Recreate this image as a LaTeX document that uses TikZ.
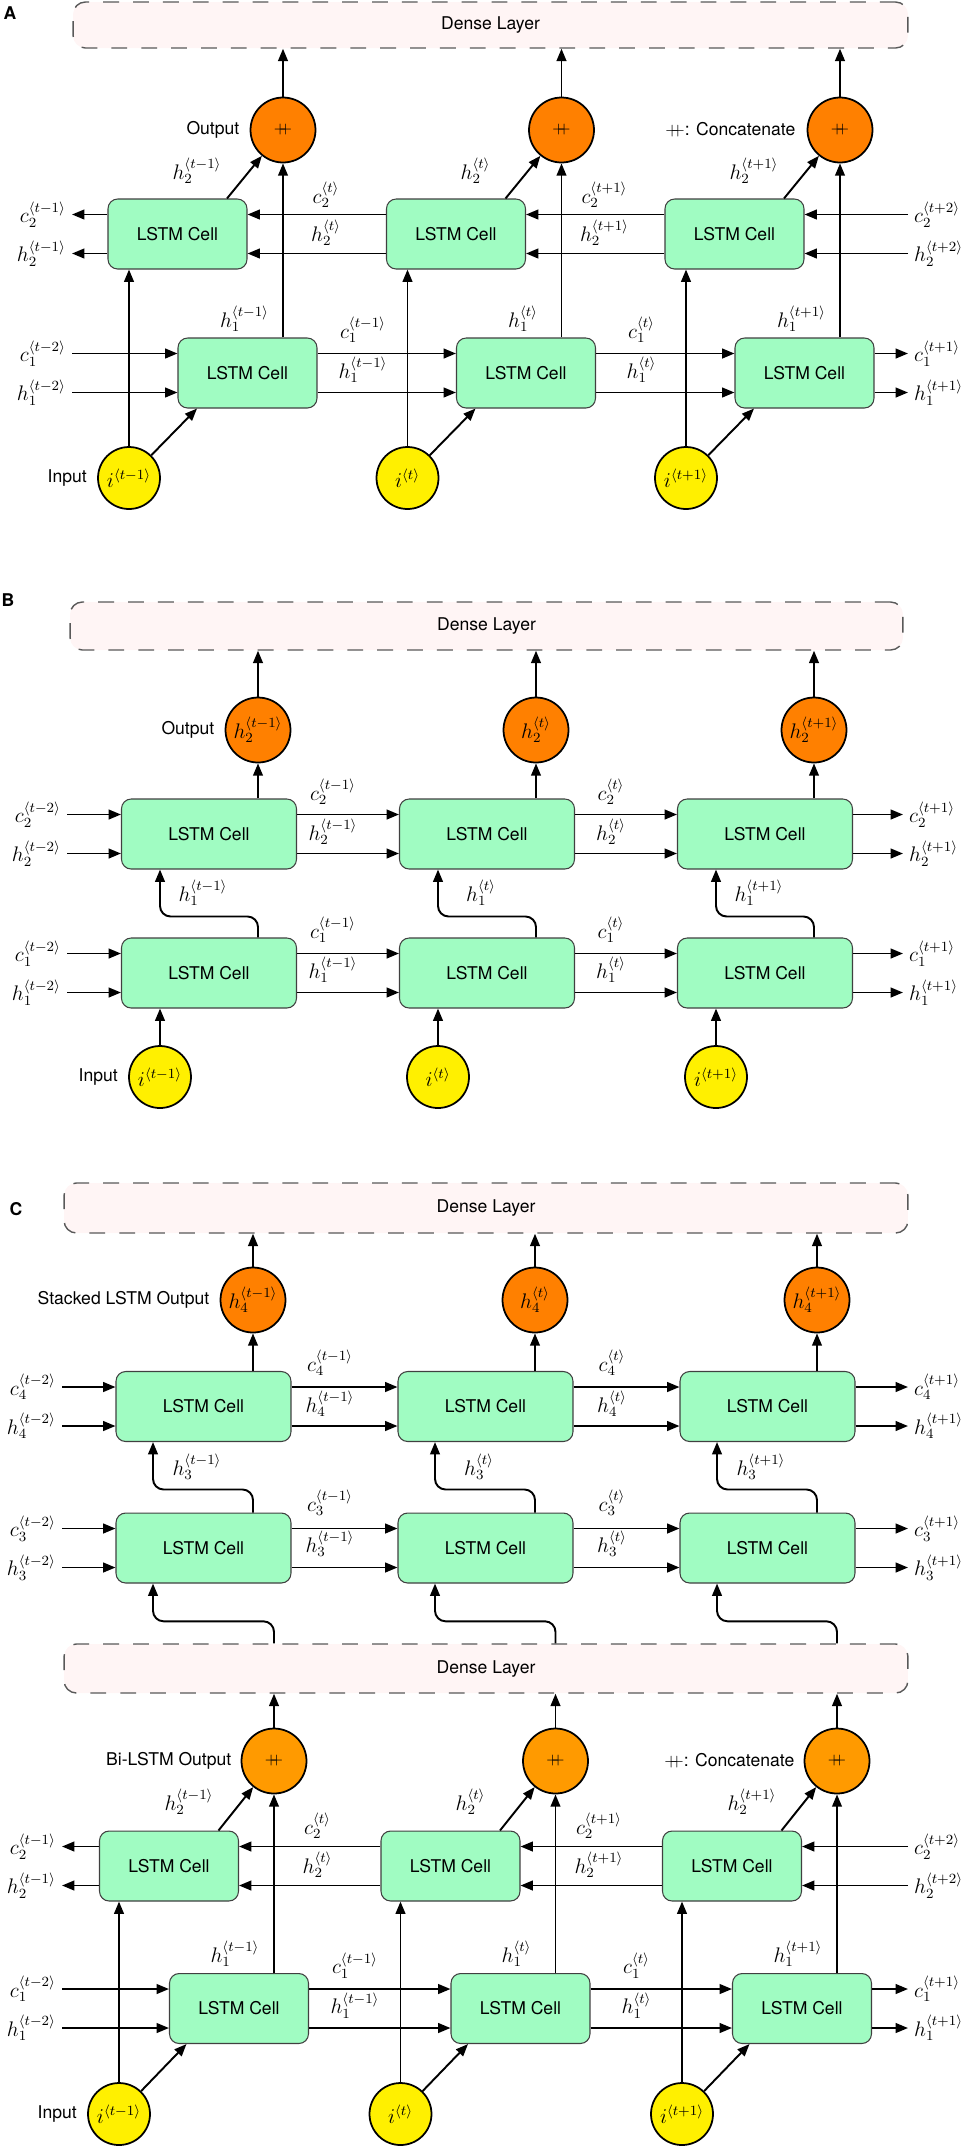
\documentclass[tikz,border=0pt]{standalone}
\usepackage{fontspec}
\setsansfont{TeX Gyre Heros}
\usepackage{xcolor}
\usetikzlibrary{arrows.meta,calc}

\definecolor{cellgreen}{HTML}{A0FCC2}
\definecolor{outorange}{HTML}{FF8000}
\definecolor{catorange}{HTML}{FF9A00}
\definecolor{inyellow}{HTML}{FFF000}
\definecolor{densepink}{HTML}{FFF5F5}
\newcommand{\catsym}{\mathord{+}\mkern-8mu\mathord{+}}

\tikzset{
  cell/.style={draw=black!75, fill=cellgreen, rounded corners=5.5pt, line width=0.6pt,
    minimum height=1.4cm, font=\sffamily},
  narrow/.style={cell, minimum width=2.78cm},
  wide/.style={cell, minimum width=3.5cm},
  outnode/.style={circle, draw, line width=1pt, fill=outorange, minimum size=1.3cm,
    inner sep=0pt, font=\large},
  innode/.style={circle, draw, line width=1pt, fill=inyellow, minimum size=1.24cm,
    inner sep=0pt, font=\large},
  dense/.style={draw=black!65, fill=densepink, dash pattern=on 9pt off 8pt,
    rounded corners=7pt, line width=0.8pt, font=\sffamily},
  flow/.style={-{Triangle[length=7pt,width=5.5pt]}, line width=1.1pt},
  lbl/.style={inner sep=0.5pt, outer sep=3pt, font=\large},
  txt/.style={font=\sffamily, inner sep=0pt},
  tag/.style={font=\sffamily\bfseries, inner sep=0pt}
}

\begin{document}
\begin{tikzpicture}[x=0.02cm, y=-0.02cm]
\useasboundingbox (0,0) rectangle (969,2148);

%% ---------------- A: Bi-LSTM ----------------
\node[tag] (tagA) at (10,13) {A};
\node[dense, minimum width=16.7cm, minimum height=0.92cm] (dA) at (490.5,25) {Dense Layer};
\foreach \i/\ux/\lx/\ox/\ix/\ts in {1/177.5/247.5/283/129/t-1, 2/456/526/561.5/407.5/t, 3/734.5/804.5/840/686/t+1} {
  \node[narrow] (UA\i) at (\ux,234) {LSTM Cell};
  \node[narrow] (LA\i) at (\lx,373) {LSTM Cell};
  \node[outnode] (OA\i) at (\ox,130) {\small$\catsym$};
  \node[innode] (IA\i) at (\ix,478) {$i^{\langle\ts\rangle}$};
  \node[lbl] (dhA\i) at (\ux+19.5,171) {$h_2^{\langle\ts\rangle}$};
  \node[lbl] (vhA\i) at (\lx-3,319) {$h_1^{\langle\ts\rangle}$};
  \draw[flow] (OA\i) -- (OA\i |- dA.south);
  \draw[flow] ([xshift=0.99cm]UA\i.north) -- (OA\i);
  \draw[flow] (LA\i.north -| OA\i) -- (OA\i);
  \draw[flow] (IA\i) -- (IA\i |- UA\i.south);
  \draw[flow] (IA\i) -- ([xshift=-1.01cm]LA\i.south);
}
\foreach \i/\j/\ts/\tn in {1/2/t-1/t, 2/3/t/t+1} {
  \draw[flow] ([yshift=0.39cm]UA\j.west) -- ([yshift=0.39cm]UA\i.east);
  \draw[flow] ([yshift=-0.39cm]UA\j.west) -- ([yshift=-0.39cm]UA\i.east);
  \draw[flow] ([yshift=0.39cm]LA\i.east) -- ([yshift=0.39cm]LA\j.west);
  \draw[flow] ([yshift=-0.39cm]LA\i.east) -- ([yshift=-0.39cm]LA\j.west);
  \node[lbl] (gcA\i) at ($(UA\i)+(148.5,-39)$) {$c_2^{\langle\tn\rangle}$};
  \node[lbl] (ghA\i) at ($(UA\i)+(148.5,-1)$) {$h_2^{\langle\tn\rangle}$};
  \node[lbl] (gkA\i) at ($(LA\i)+(115.5,-43)$) {$c_1^{\langle\ts\rangle}$};
  \node[lbl] (glA\i) at ($(LA\i)+(115.5,-3)$) {$h_1^{\langle\ts\rangle}$};
}
\node[lbl, anchor=east] (lcA2) at (72,214.5) {$c_2^{\langle t-1\rangle}$};
\node[lbl, anchor=east] (lhA2) at (72,253.5) {$h_2^{\langle t-1\rangle}$};
\node[lbl, anchor=east] (lcA1) at (72,353.5) {$c_1^{\langle t-2\rangle}$};
\node[lbl, anchor=east] (lhA1) at (72,392.5) {$h_1^{\langle t-2\rangle}$};
\node[lbl, anchor=west] (rcA2) at (908,214.5) {$c_2^{\langle t+2\rangle}$};
\node[lbl, anchor=west] (rhA2) at (908,253.5) {$h_2^{\langle t+2\rangle}$};
\node[lbl, anchor=west] (rcA1) at (908,353.5) {$c_1^{\langle t+1\rangle}$};
\node[lbl, anchor=west] (rhA1) at (908,392.5) {$h_1^{\langle t+1\rangle}$};
\draw[flow] (UA1.west |- lcA2.east) -- (lcA2.east);
\draw[flow] (UA1.west |- lhA2.east) -- (lhA2.east);
\draw[flow] (lcA1.east) -- (lcA1.east -| LA1.west);
\draw[flow] (lhA1.east) -- (lhA1.east -| LA1.west);
\draw[flow] (rcA2.west) -- (rcA2.west -| UA3.east);
\draw[flow] (rhA2.west) -- (rhA2.west -| UA3.east);
\draw[flow] (LA3.east |- rcA1.west) -- (rcA1.west);
\draw[flow] (LA3.east |- rhA1.west) -- (rhA1.west);
\node[txt, anchor=east] (outA) at ([xshift=-0.2cm]OA1.west) {Output};
\node[txt, anchor=east] (catA) at ([xshift=-0.22cm]OA3.west) {$\catsym$: Concatenate};
\node[txt, anchor=east] (inA) at ([xshift=-0.2cm]IA1.west) {Input};

%% ---------------- B: stacked LSTM ----------------
\node[tag] (tagB) at (8,600) {B};
\node[dense, minimum width=16.66cm, minimum height=0.96cm] (dB) at (486.5,626) {Dense Layer};
\foreach \i/\ux/\ts in {1/209/t-1, 2/487/t, 3/765/t+1} {
  \node[wide] (UB\i) at (\ux,834) {LSTM Cell};
  \node[wide] (LB\i) at (\ux,973) {LSTM Cell};
  \node[outnode] (OB\i) at (\ux+49,730) {$h_2^{\langle\ts\rangle}$};
  \node[innode] (IB\i) at (\ux-49,1077) {$i^{\langle\ts\rangle}$};
  \node[lbl] (vhB\i) at (\ux-6,893) {$h_1^{\langle\ts\rangle}$};
  \draw[flow] (OB\i) -- (OB\i |- dB.south);
  \draw[flow] (UB\i.north -| OB\i) -- (OB\i);
  \draw[flow] (IB\i) -- (IB\i |- LB\i.south);
  \draw[flow, rounded corners=6pt] (LB\i.north -| OB\i) -- ++(0,-21) -| (UB\i.south -| IB\i);
}
\foreach \i/\j/\ts in {1/2/t-1, 2/3/t} {
  \draw[flow] ([yshift=0.39cm]UB\i.east) -- ([yshift=0.39cm]UB\j.west);
  \draw[flow] ([yshift=-0.39cm]UB\i.east) -- ([yshift=-0.39cm]UB\j.west);
  \draw[flow] ([yshift=0.39cm]LB\i.east) -- ([yshift=0.39cm]LB\j.west);
  \draw[flow] ([yshift=-0.39cm]LB\i.east) -- ([yshift=-0.39cm]LB\j.west);
  \node[lbl] (gcB\i) at ($(UB\i)+(124,-42)$) {$c_2^{\langle\ts\rangle}$};
  \node[lbl] (ghB\i) at ($(UB\i)+(124,-2)$) {$h_2^{\langle\ts\rangle}$};
  \node[lbl] (gkB\i) at ($(LB\i)+(124,-43)$) {$c_1^{\langle\ts\rangle}$};
  \node[lbl] (glB\i) at ($(LB\i)+(124,-3)$) {$h_1^{\langle\ts\rangle}$};
}
\node[lbl, anchor=east] (lcB2) at (67,814.5) {$c_2^{\langle t-2\rangle}$};
\node[lbl, anchor=east] (lhB2) at (67,853.5) {$h_2^{\langle t-2\rangle}$};
\node[lbl, anchor=east] (lcB1) at (67,953.5) {$c_1^{\langle t-2\rangle}$};
\node[lbl, anchor=east] (lhB1) at (67,992.5) {$h_1^{\langle t-2\rangle}$};
\node[lbl, anchor=west] (rcB2) at (903,814.5) {$c_2^{\langle t+1\rangle}$};
\node[lbl, anchor=west] (rhB2) at (903,853.5) {$h_2^{\langle t+1\rangle}$};
\node[lbl, anchor=west] (rcB1) at (903,953.5) {$c_1^{\langle t+1\rangle}$};
\node[lbl, anchor=west] (rhB1) at (903,992.5) {$h_1^{\langle t+1\rangle}$};
\draw[flow] (lcB2.east) -- (lcB2.east -| UB1.west);
\draw[flow] (lhB2.east) -- (lhB2.east -| UB1.west);
\draw[flow] (lcB1.east) -- (lcB1.east -| LB1.west);
\draw[flow] (lhB1.east) -- (lhB1.east -| LB1.west);
\draw[flow] (UB3.east |- rcB2.west) -- (rcB2.west);
\draw[flow] (UB3.east |- rhB2.west) -- (rhB2.west);
\draw[flow] (LB3.east |- rcB1.west) -- (rcB1.west);
\draw[flow] (LB3.east |- rhB1.west) -- (rhB1.west);
\node[txt, anchor=east] (outB) at ([xshift=-0.2cm]OB1.west) {Output};
\node[txt, anchor=east] (inB) at ([xshift=-0.2cm]IB1.west) {Input};

%% ---------------- C: stacked LSTM on Bi-LSTM ----------------
\node[tag] (tagC) at (16,1209) {C};
\node[dense, minimum width=16.88cm, minimum height=1cm] (dC) at (486,1208) {Dense Layer};
\node[dense, minimum width=16.88cm, minimum height=0.98cm] (dD) at (486,1668.5) {Dense Layer};
% upper part: layers 3 and 4
\foreach \i/\ux/\ts in {1/203.5/t-1, 2/485.5/t, 3/767.5/t+1} {
  \node[wide] (UC\i) at (\ux,1406.5) {LSTM Cell};
  \node[wide] (LC\i) at (\ux,1548) {LSTM Cell};
  \node[outnode] (OC\i) at (\ux+49.5,1300) {$h_4^{\langle\ts\rangle}$};
  \node[lbl] (vhC\i) at (\ux-6.5,1467) {$h_3^{\langle\ts\rangle}$};
  \draw[flow] (OC\i) -- (OC\i |- dC.south);
  \draw[flow] (UC\i.north -| OC\i) -- (OC\i);
  \draw[flow, rounded corners=6pt] (LC\i.north -| OC\i) -- ++(0,-23) -| ([xshift=-1.01cm]UC\i.south);
}
\foreach \i/\j/\ts in {1/2/t-1, 2/3/t} {
  \draw[flow] ([yshift=0.39cm]UC\i.east) -- ([yshift=0.39cm]UC\j.west);
  \draw[flow] ([yshift=-0.39cm]UC\i.east) -- ([yshift=-0.39cm]UC\j.west);
  \draw[flow] ([yshift=0.39cm]LC\i.east) -- ([yshift=0.39cm]LC\j.west);
  \draw[flow] ([yshift=-0.39cm]LC\i.east) -- ([yshift=-0.39cm]LC\j.west);
  \node[lbl] (gcC\i) at ($(UC\i)+(126.5,-43.5)$) {$c_4^{\langle\ts\rangle}$};
  \node[lbl] (ghC\i) at ($(UC\i)+(126.5,-2.5)$) {$h_4^{\langle\ts\rangle}$};
  \node[lbl] (gkC\i) at ($(LC\i)+(126.5,-45)$) {$c_3^{\langle\ts\rangle}$};
  \node[lbl] (glC\i) at ($(LC\i)+(126.5,-4)$) {$h_3^{\langle\ts\rangle}$};
}
\node[lbl, anchor=east] (lcC4) at (62,1387) {$c_4^{\langle t-2\rangle}$};
\node[lbl, anchor=east] (lhC4) at (62,1426) {$h_4^{\langle t-2\rangle}$};
\node[lbl, anchor=east] (lcC3) at (62,1528.5) {$c_3^{\langle t-2\rangle}$};
\node[lbl, anchor=east] (lhC3) at (62,1567.5) {$h_3^{\langle t-2\rangle}$};
\node[lbl, anchor=west] (rcC4) at (908,1387) {$c_4^{\langle t+1\rangle}$};
\node[lbl, anchor=west] (rhC4) at (908,1426) {$h_4^{\langle t+1\rangle}$};
\node[lbl, anchor=west] (rcC3) at (908,1528.5) {$c_3^{\langle t+1\rangle}$};
\node[lbl, anchor=west] (rhC3) at (908,1567.5) {$h_3^{\langle t+1\rangle}$};
\draw[flow] (lcC4.east) -- (lcC4.east -| UC1.west);
\draw[flow] (lhC4.east) -- (lhC4.east -| UC1.west);
\draw[flow] (lcC3.east) -- (lcC3.east -| LC1.west);
\draw[flow] (lhC3.east) -- (lhC3.east -| LC1.west);
\draw[flow] (UC3.east |- rcC4.west) -- (rcC4.west);
\draw[flow] (UC3.east |- rhC4.west) -- (rhC4.west);
\draw[flow] (LC3.east |- rcC3.west) -- (rcC3.west);
\draw[flow] (LC3.east |- rhC3.west) -- (rhC3.west);
\node[txt, anchor=east] (outC) at ([xshift=-0.2cm]OC1.west) {Stacked LSTM Output};
% lower part: Bi-LSTM
\foreach \i/\ux/\lx/\ts in {1/169/239/t-1, 2/450.5/520.5/t, 3/732/802/t+1} {
  \node[narrow] (UD\i) at (\ux,1866) {LSTM Cell};
  \node[narrow] (LD\i) at (\lx,2008.5) {LSTM Cell};
  \node[outnode, fill=catorange] (OD\i) at (\lx+35,1761) {\small$\catsym$};
  \node[innode] (ID\i) at (\ux-50,2114) {$i^{\langle\ts\rangle}$};
  \node[lbl] (dhD\i) at (\ux+20,1802) {$h_2^{\langle\ts\rangle}$};
  \node[lbl] (vhD\i) at (\lx-4,1954) {$h_1^{\langle\ts\rangle}$};
  \draw[flow] (OD\i) -- (OD\i |- dD.south);
  \draw[flow] ([xshift=0.99cm]UD\i.north) -- (OD\i);
  \draw[flow] (LD\i.north -| OD\i) -- (OD\i);
  \draw[flow] (ID\i) -- (ID\i |- UD\i.south);
  \draw[flow] (ID\i) -- ([xshift=-1.05cm]LD\i.south);
  \draw[flow, rounded corners=6pt] (OD\i |- dD.north) -- ++(0,-22) -| ([xshift=-1.01cm]LC\i.south);
}
\foreach \i/\j/\ts/\tn in {1/2/t-1/t, 2/3/t/t+1} {
  \draw[flow] ([yshift=0.39cm]UD\j.west) -- ([yshift=0.39cm]UD\i.east);
  \draw[flow] ([yshift=-0.39cm]UD\j.west) -- ([yshift=-0.39cm]UD\i.east);
  \draw[flow] ([yshift=0.39cm]LD\i.east) -- ([yshift=0.39cm]LD\j.west);
  \draw[flow] ([yshift=-0.39cm]LD\i.east) -- ([yshift=-0.39cm]LD\j.west);
  \node[lbl] (gcD\i) at ($(UD\i)+(148.5,-40)$) {$c_2^{\langle\tn\rangle}$};
  \node[lbl] (ghD\i) at ($(UD\i)+(148.5,-1)$) {$h_2^{\langle\tn\rangle}$};
  \node[lbl] (gkD\i) at ($(LD\i)+(116,-43)$) {$c_1^{\langle\ts\rangle}$};
  \node[lbl] (glD\i) at ($(LD\i)+(116,-3)$) {$h_1^{\langle\ts\rangle}$};
}
\node[lbl, anchor=east] (lcD2) at (62,1846.5) {$c_2^{\langle t-1\rangle}$};
\node[lbl, anchor=east] (lhD2) at (62,1885.5) {$h_2^{\langle t-1\rangle}$};
\node[lbl, anchor=east] (lcD1) at (62,1989) {$c_1^{\langle t-2\rangle}$};
\node[lbl, anchor=east] (lhD1) at (62,2028) {$h_1^{\langle t-2\rangle}$};
\node[lbl, anchor=west] (rcD2) at (908,1846.5) {$c_2^{\langle t+2\rangle}$};
\node[lbl, anchor=west] (rhD2) at (908,1885.5) {$h_2^{\langle t+2\rangle}$};
\node[lbl, anchor=west] (rcD1) at (908,1989) {$c_1^{\langle t+1\rangle}$};
\node[lbl, anchor=west] (rhD1) at (908,2028) {$h_1^{\langle t+1\rangle}$};
\draw[flow] (UD1.west |- lcD2.east) -- (lcD2.east);
\draw[flow] (UD1.west |- lhD2.east) -- (lhD2.east);
\draw[flow] (lcD1.east) -- (lcD1.east -| LD1.west);
\draw[flow] (lhD1.east) -- (lhD1.east -| LD1.west);
\draw[flow] (rcD2.west) -- (rcD2.west -| UD3.east);
\draw[flow] (rhD2.west) -- (rhD2.west -| UD3.east);
\draw[flow] (LD3.east |- rcD1.west) -- (rcD1.west);
\draw[flow] (LD3.east |- rhD1.west) -- (rhD1.west);
\node[txt, anchor=east] (outD) at ([xshift=-0.18cm]OD1.west) {Bi-LSTM Output};
\node[txt, anchor=east] (catD) at ([xshift=-0.18cm]OD3.west) {$\catsym$: Concatenate};
\node[txt, anchor=east] (inD) at ([xshift=-0.2cm]ID1.west) {Input};
\end{tikzpicture}
\end{document}
